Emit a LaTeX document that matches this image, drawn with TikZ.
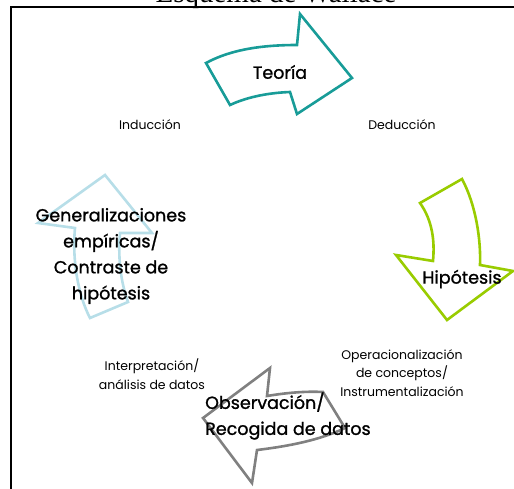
\documentclass[tikz,border=0pt]{standalone}
\usepackage{fontspec}
\setmainfont{Poppins}
\newfontfamily\titlefont{Liberation Serif}
\newfontfamily\bigfont{Poppins}[RawFeature={embolden=1.2}]
\definecolor{teal1}{RGB}{24,156,152}
\definecolor{lime1}{RGB}{153,204,0}
\definecolor{aqua1}{RGB}{183,222,232}
\definecolor{gray1}{RGB}{128,128,128}
\begin{document}
\begin{tikzpicture}[x=1pt,y=-1pt,
  arrowshape/.style={line width=2.6pt, line join=miter, fill=white},
  big/.style={font=\bigfont\fontsize{17.5}{26}\selectfont, text=black, inner sep=0pt},
  small/.style={font=\fontsize{12.5}{18.5}\selectfont, text=black, inner sep=0pt, align=center}]
\useasboundingbox (0,0) rectangle (514,489);
% frame
\draw[line width=1.6pt] (11,500) -- (11,7) -- (530,7);
\node[font=\titlefont\fontsize{29}{29}\selectfont, anchor=base, inner sep=0pt] (title) at (276,2.5) {Esquema de Wallace};
% Teoria arrow
\draw[arrowshape, draw=teal1] (206,63) .. controls (230,50) and (260,45) .. (297,45)
  -- (300,14) -- (352,78) -- (297,114) -- (290,92)
  .. controls (265,93) and (245,98) .. (230,105) -- cycle;
% Hipotesis arrow
\draw[arrowshape, draw=lime1] (462,179) -- (420,203)
  .. controls (432,220) and (435,240) .. (433,261) -- (396,255) -- (447,320) -- (513,271) -- (480,265)
  .. controls (481,240) and (476,205) .. (462,179) -- cycle;
% Observacion arrow
\draw[arrowshape, draw=gray1] (203,418) -- (270,368) -- (267,396)
  .. controls (285,393) and (305,391) .. (323,392) -- (345,428)
  .. controls (320,440) and (290,446) .. (257,450) -- (252,483) -- cycle;
% Generalizaciones arrow
\draw[arrowshape, draw=aqua1] (105,175) -- (152,233) -- (120,233)
  .. controls (118,255) and (120,280) .. (128,302) -- (90,318)
  .. controls (78,295) and (72,260) .. (75,228) -- (38,223) -- cycle;
% texts
\node[big] (teoria) at (280,72) {Teoría};
\node[big] (hipo) at (462,279) {Hipótesis};
\node[big, align=center] (gen) at (111,256) {Generalizaciones\\empíricas/\\Contraste de\\hipótesis};
\node[big, align=left, anchor=west] (obs) at (205,416) {Observación/\\Recogida de datos};
\node[small] (ind) at (150,125) {Inducción};
\node[small] (ded) at (402,125) {Deducción};
\node[small] (interp) at (152,374) {Interpretación/\\análisis de datos};
\node[small] (oper) at (402,373) {Operacionalización\\de conceptos/\\Instrumentalización};
\end{tikzpicture}
\end{document}
